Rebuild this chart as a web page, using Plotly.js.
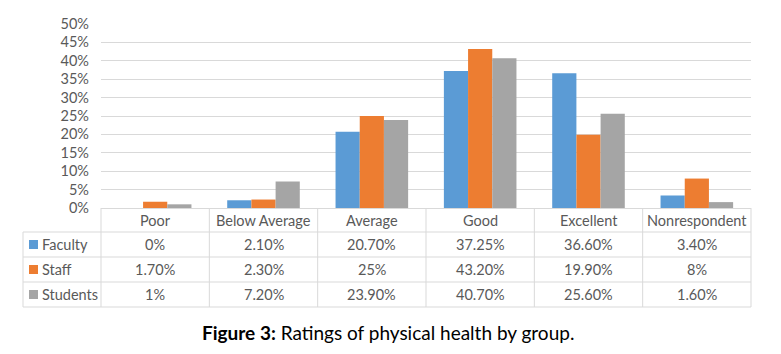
<!DOCTYPE html>
<html>
<head>
<meta charset="utf-8">
<script src="https://cdn.plot.ly/plotly-3.0.1.min.js"></script>
<style>html,body{margin:0;padding:0;background:#fff;}#chart{width:781px;height:354px;}</style>
</head>
<body>
<div id="chart"></div>
<script>
var categories = ["Poor", "Below Average", "Average", "Good", "Excellent", "Nonrespondent"];
var seriesNames = ["Faculty", "Staff", "Students"];
var faculty = [0.0, 0.021, 0.207, 0.3725, 0.366, 0.034];
var staff = [0.017, 0.023, 0.25, 0.432, 0.199, 0.08];
var students = [0.01, 0.072, 0.239, 0.407, 0.256, 0.016];
var facultyLabels = ["0%", "2.10%", "20.70%", "37.25%", "36.60%", "3.40%"];
var staffLabels = ["1.70%", "2.30%", "25%", "43.20%", "19.90%", "8%"];
var studentsLabels = ["1%", "7.20%", "23.90%", "40.70%", "25.60%", "1.60%"];
var colors = ["#5B9BD5", "#ED7D31", "#A5A5A5"];
var captionText = "<b>Figure 3:</b> Ratings of physical health by group.";

var W = 781, H = 354;
var L = 101, R = 30, T = 24, B = 146;
var plotW = W - L - R, plotH = H - T - B;
function px(x) { return (x - L) / plotW; }
function py(y) { return (T + plotH - y) / plotH; }

var values = [faculty, staff, students];
var labels = [facultyLabels, staffLabels, studentsLabels];
var traces = values.map(function (v, i) {
  return { type: "bar", x: categories, y: v, name: seriesNames[i], marker: { color: colors[i] }, hoverinfo: "skip" };
});

var font = "Lato, 'Open Sans', sans-serif";
var txtColor = "#595959";
var lineColor = "#D9D9D9";
var fs = 14.5;
var shapes = [], annotations = [];
var tableTop = 208, headerBottom = 232, rowH = 25, tableBottom = headerBottom + 3 * rowH;
var leftX = 23;
for (var r = 0; r <= 3; r++) {
  var yy = headerBottom + r * rowH;
  shapes.push({ type: "line", xref: "paper", yref: "paper", x0: px(leftX), x1: 1, y0: py(yy), y1: py(yy), line: { color: lineColor, width: 1 } });
}
for (var k = 0; k <= categories.length; k++) {
  shapes.push({ type: "line", xref: "paper", yref: "paper", x0: k / categories.length, x1: k / categories.length, y0: py(tableTop), y1: py(tableBottom), line: { color: lineColor, width: 1 } });
}
shapes.push({ type: "line", xref: "paper", yref: "paper", x0: px(leftX), x1: px(leftX), y0: py(headerBottom), y1: py(tableBottom), line: { color: lineColor, width: 1 } });

categories.forEach(function (c) {
  annotations.push({ xref: "x", yref: "paper", x: c, y: py((tableTop + headerBottom) / 2), text: c, showarrow: false, xanchor: "center", yanchor: "middle", font: { family: font, size: fs, color: txtColor } });
});
seriesNames.forEach(function (s, i) {
  var cy = headerBottom + rowH * i + rowH / 2;
  shapes.push({ type: "rect", xref: "paper", yref: "paper", x0: px(29), x1: px(38), y0: py(cy - 4.5), y1: py(cy + 4.5), fillcolor: colors[i], line: { width: 0 } });
  annotations.push({ xref: "paper", yref: "paper", x: px(40), y: py(cy), text: s, showarrow: false, xanchor: "left", yanchor: "middle", font: { family: font, size: fs, color: txtColor } });
  categories.forEach(function (c, j) {
    annotations.push({ xref: "x", yref: "paper", x: c, y: py(cy), text: labels[i][j], showarrow: false, xanchor: "center", yanchor: "middle", font: { family: font, size: fs, color: txtColor } });
  });
});
annotations.push({ xref: "paper", yref: "paper", x: px(388), y: py(332), text: captionText, showarrow: false, xanchor: "center", yanchor: "middle", font: { family: font, size: 19, color: "#000000" } });

var layout = {
  width: W, height: H,
  margin: { l: L, r: R, t: T, b: B, pad: 0 },
  paper_bgcolor: "#fff", plot_bgcolor: "#fff",
  barmode: "group", bargap: 0.33, bargroupgap: 0,
  showlegend: false,
  xaxis: { type: "category", showticklabels: false, ticks: "", showgrid: false, zeroline: false, showline: false, fixedrange: true },
  yaxis: { range: [0, 0.5], dtick: 0.05, tickformat: ".0%", showgrid: true, gridcolor: lineColor, gridwidth: 1, zeroline: true, zerolinecolor: lineColor, zerolinewidth: 1, ticks: "", ticklabelstandoff: 11, tickfont: { family: font, size: fs, color: txtColor }, fixedrange: true },
  shapes: shapes,
  annotations: annotations
};
Plotly.newPlot("chart", traces, layout, { displayModeBar: false, staticPlot: true });
</script>
</body>
</html>
